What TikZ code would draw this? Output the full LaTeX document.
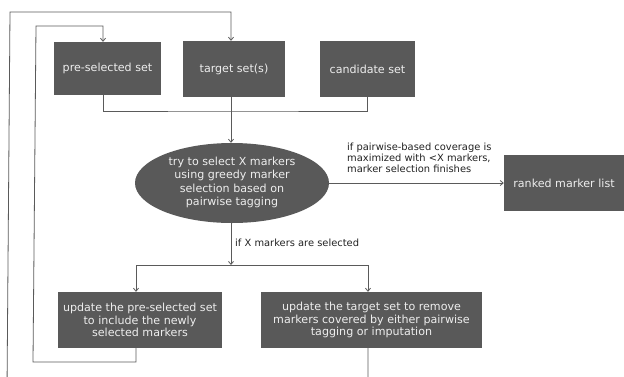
\documentclass[tikz,border=0pt]{standalone}
\usepackage{fontspec}
\setmainfont{DejaVu Sans}
\usetikzlibrary{arrows.meta,shapes.geometric,calc}
\definecolor{boxfill}{HTML}{595959}
\definecolor{linec}{HTML}{5A5A5A}
\definecolor{txt}{HTML}{EEEEEE}
\definecolor{lbltxt}{HTML}{222222}
\begin{document}
\begin{tikzpicture}[x=1pt,y=-1pt,
  box/.style={rectangle, fill=boxfill, text=txt, inner sep=0pt, align=center,
    font=\fontsize{11.1}{12.8}\selectfont},
  oval/.style={ellipse, fill=boxfill, text=txt, inner sep=0pt,
    font=\fontsize{11.1}{13.3}\selectfont},
  conn/.style={draw=linec, line width=0.8pt},
  arr/.style={conn, -{Straight Barb[length=3pt,width=5pt]}},
  lbl/.style={font=\fontsize{9.9}{11.2}\selectfont, text=lbltxt, inner sep=0pt, align=left}]
\useasboundingbox (0,0) rectangle (624,376);
% top row
\node[box, minimum width=107pt, minimum height=53pt] (pre) at (107.5,68.5) {pre-selected set};
\node[box, minimum width=102pt, minimum height=56pt] (tgt) at (234,69) {target set(s)};
\node[box, minimum width=95pt, minimum height=56pt] (cand) at (367.5,69) {candidate set};
% ellipse
\node[oval, minimum width=194pt, minimum height=80pt] (sel) at (232,183)
  {\makebox[0pt][c]{\raisebox{-2.5pt}[0pt][0pt]{\begin{tabular}{@{}c@{}}try to select X markers\\using greedy marker\\selection based on\\pairwise tagging\end{tabular}}}};
% result
\node[box, minimum width=120pt, minimum height=56pt] (rank) at (564,183) {ranked marker list};
% update boxes
\node[box, minimum width=164pt, minimum height=56pt] (upd1) at (140,320)
  {update the pre-selected set\\to include the newly\\selected markers};
\node[box, minimum width=221pt, minimum height=56pt] (upd2) at (371.5,320)
  {update the target set to remove\\markers covered by either pairwise\\tagging or imputation};
% labels
\node[lbl, anchor=west] (lfin) at (347,158)
  {if pairwise-based coverage is\\maximized with <X markers,\\marker selection finishes};
\node[lbl, anchor=west] (lsel) at (235,243) {if X markers are selected};
% coordinates
\coordinate (cx) at (231,0);
\coordinate (merge) at (231,111);
\coordinate (split) at (231,265);
\coordinate (c1) at (33,362);
\coordinate (c2) at (36,26);
\coordinate (o1) at (7,390);
\coordinate (o2) at (10,12);
% connectors
\draw[conn] ([xshift=-4.5pt]pre.south) |- (merge) -| (cand.south);
\draw[arr] (tgt.south -| cx) -- (sel.north -| cx);
\draw[arr] (sel.east) -- (rank.west);
\draw[arr] (sel.south -| cx) -- (split);
\draw[arr] (split) -| ([xshift=-4pt]upd1.north);
\draw[arr] (split) -| ([xshift=-3.5pt]upd2.north);
\draw[arr] ([xshift=-4pt]upd1.south) |- (c1) -- (c2) -| ([xshift=-4.5pt]pre.north);
\draw[arr] ([xshift=-3.5pt]upd2.south) |- (o1) -- (o2) -| (tgt.north -| cx);
\end{tikzpicture}
\end{document}
